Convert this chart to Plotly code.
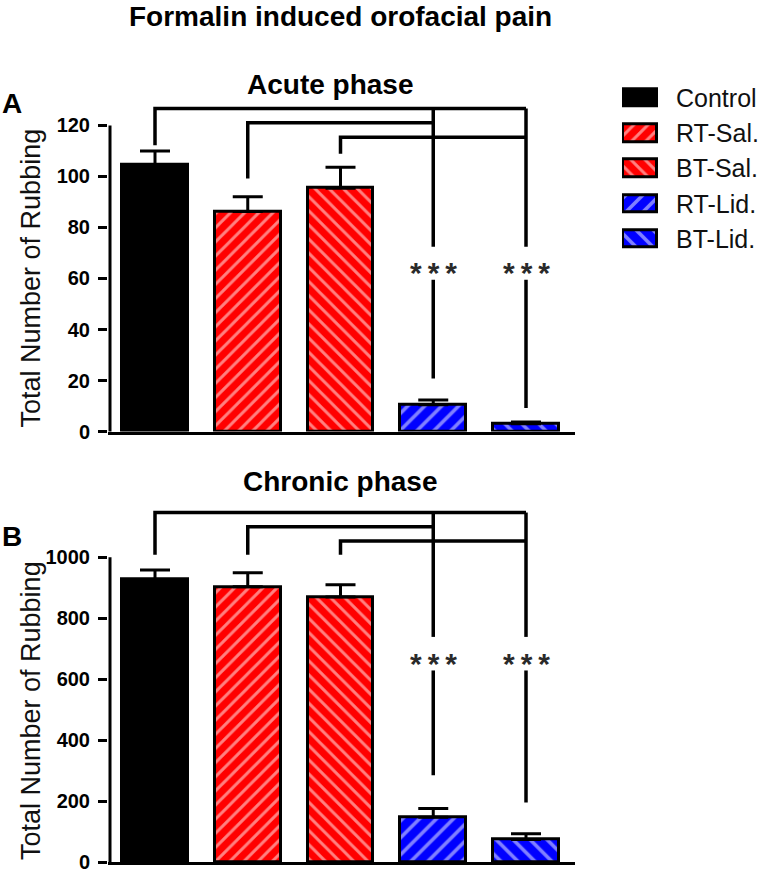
import plotly.graph_objects as go

# ---------------- data ----------------
categories = ["Control", "RT-Sal.", "BT-Sal.", "RT-Lid.", "BT-Lid."]
acute_mean = [104.6, 86.3, 95.4, 10.5, 3.1]
acute_sem = [5.4, 5.7, 8.2, 1.9, 0.6]
chronic_mean = [927, 903, 870, 148, 75]
chronic_sem = [31, 46, 40, 29, 19]
acute_ticks = [0, 20, 40, 60, 80, 100, 120]
chronic_ticks = [0, 200, 400, 600, 800, 1000]
sig_label = "*\u2009*\u2009*"

# ---------------- styles ----------------
FONT = "Liberation Sans, Arial, sans-serif"
colors = ["#000000", "#FF0000", "#FF0000", "#0000FF", "#0000FF"]
shapes = ["", "/", "\\", "/", "\\"]
psizes = [10, 10, 10, 12, 12]
W, H = 765, 881

# pixel geometry
px_left, px_right = 108, 575
cat0_px, cat_step = 155, 92.75
yaxis_px = 110


def xr(px):
    return (px - cat0_px) / cat_step


xs = list(range(len(categories)))

fig = go.Figure()


def marker():
    return dict(
        color=colors,
        line=dict(color="black", width=3),
        pattern=dict(shape=shapes, fgcolor="white", size=psizes, solidity=0.3),
    )


for mean, sem, xa, ya in [
    (acute_mean, acute_sem, "x", "y"),
    (chronic_mean, chronic_sem, "x2", "y2"),
]:
    fig.add_trace(
        go.Bar(
            x=xs, y=mean, xaxis=xa, yaxis=ya, width=0.71,
            marker=marker(), showlegend=False,
            error_y=dict(type="data", symmetric=False, array=sem,
                         arrayminus=[0] * len(sem), color="black",
                         thickness=3, width=15),
        )
    )

# legend swatches as a small horizontal-bar subplot
fig.add_trace(
    go.Bar(x=[1] * len(categories), y=xs, orientation="h", xaxis="x3", yaxis="y3",
           width=0.5, marker=marker(), showlegend=False, hoverinfo="skip")
)

leg_top, leg_step = 99, 35.7
leg_dom = [1 - (leg_top + leg_step * 4.5) / H, 1 - (leg_top - leg_step * 0.5) / H]

top_dom = [1 - 437 / H, 1 - 96 / H]
bot_dom = [1 - 873.3 / H, 1 - 508.7 / H]

xax = dict(domain=[px_left / W, px_right / W], range=[xr(px_left), xr(px_right)],
           showline=True, linecolor="black", linewidth=3, showticklabels=False,
           ticks="", showgrid=False, zeroline=False, fixedrange=True)
tickfont = dict(family=FONT, size=20, color="black", weight="bold")
yax = dict(ticks="outside", ticklen=9, tickwidth=3, tickcolor="black",
           showline=False, showgrid=False, zeroline=False, tickfont=tickfont,
           ticklabelstandoff=4, fixedrange=True)

fig.update_layout(
    width=W, height=H, margin=dict(l=0, r=0, t=0, b=0),
    paper_bgcolor="white", plot_bgcolor="white", bargap=0,
    xaxis=dict(xax, anchor="y"),
    yaxis=dict(yax, domain=top_dom, range=[0, 132], tickvals=acute_ticks, anchor="x"),
    xaxis2=dict(xax, anchor="y2"),
    yaxis2=dict(yax, domain=bot_dom, range=[0, 1180], tickvals=chronic_ticks, anchor="x2"),
    xaxis3=dict(domain=[622 / W, 658 / W], range=[-0.045, 1.045], visible=False,
                anchor="y3", fixedrange=True),
    yaxis3=dict(domain=leg_dom, range=[4.5, -0.5], visible=False, anchor="x3",
                fixedrange=True),
)

shapes_list = []
# y axis lines (only up to top tick)
for xa, ya, top in [("x", "y", acute_ticks[-1]), ("x2", "y2", chronic_ticks[-1])]:
    shapes_list.append(dict(type="line", xref=xa, yref=ya, x0=xr(yaxis_px), x1=xr(yaxis_px),
                            y0=-5 if ya == "y" else -30, y1=top,
                            line=dict(color="black", width=3)))

# significance brackets (geometry)
br_top = {
    "lvl": [126.6, 121.0, 115.4], "start": [112.2, 99.2, 108.9],
    "drop": 72.4, "low_top": 59.5, "low_end": [20.8, 9.2], "star": 66,
}
br_bot = {
    "lvl": [1146.6, 1100.0, 1053.7], "start": [1008, 1008, 1008],
    "drop": 739, "low_top": 629, "low_end": [286, 196], "star": 681,
}
ends = [4, 3, 4]
for xa, ya, g in [("x", "y", br_top), ("x2", "y2", br_bot)]:
    for i in range(3):
        p = f"M {i},{g['start'][i]} L {i},{g['lvl'][i]} L {ends[i]},{g['lvl'][i]}"
        shapes_list.append(dict(type="path", xref=xa, yref=ya, path=p,
                                line=dict(color="black", width=3.5)))
    for j, xi in enumerate([3, 4]):
        shapes_list.append(dict(type="line", xref=xa, yref=ya, x0=xi, x1=xi,
                                y0=g["lvl"][0], y1=g["drop"],
                                line=dict(color="black", width=3.5)))
        shapes_list.append(dict(type="line", xref=xa, yref=ya, x0=xi, x1=xi,
                                y0=g["low_top"], y1=g["low_end"][j],
                                line=dict(color="black", width=3.5)))
fig.update_layout(shapes=shapes_list)

ann = []
for xa, ya, g in [("x", "y", br_top), ("x2", "y2", br_bot)]:
    for xi in [3, 4]:
        ann.append(dict(xref=xa, yref=ya, x=xi, y=g["star"], text=sig_label,
                        showarrow=False, yshift=-9,
                        font=dict(family=FONT, size=30, color="#2a2a2a", weight="bold")))


def ptxt(text, x, y, size, bold=False, angle=0, xanchor="center", color="black"):
    return dict(xref="paper", yref="paper", x=x / W, y=1 - y / H, text=text,
                showarrow=False, xanchor=xanchor, yanchor="middle", textangle=angle,
                font=dict(family=FONT, size=size, color=color,
                          weight="bold" if bold else "normal"))


ann.append(ptxt("Formalin induced orofacial pain", 340, 17, 28, bold=True))
ann.append(ptxt("Acute phase", 330, 86, 28, bold=True))
ann.append(ptxt("Chronic phase", 340, 488, 28, bold=True))
ann.append(ptxt("A", 12, 105, 28, bold=True))
ann.append(ptxt("B", 12, 543, 28, bold=True))
ann.append(ptxt("Total Number of Rubbing", 31, 282, 27, angle=-90, color="#111111"))
ann.append(ptxt("Total Number of Rubbing", 31, 720, 27, angle=-90, color="#111111"))
for i, c in enumerate(categories):
    ann.append(ptxt(c, 674, leg_top + leg_step * i, 25, xanchor="left", color="#111111"))
fig.update_layout(annotations=ann)

fig.write_html("out.html", config={"displayModeBar": False},
               post_script="document.body.style.margin='0px';document.body.style.overflow='hidden';")
